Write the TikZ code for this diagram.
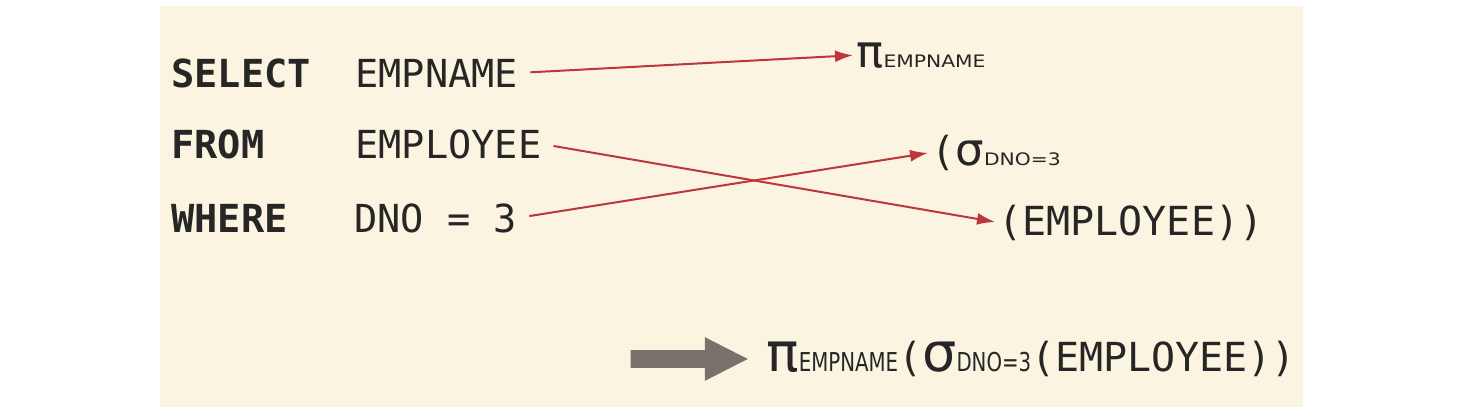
\documentclass[tikz,border=0pt]{standalone}
\usepackage{fontspec}
\setmonofont{DejaVu Sans Mono}
\newfontfamily\greekfont{DejaVu Sans}
\newfontfamily\subwide[FakeStretch=1.18]{DejaVu Sans}
\newfontfamily\subnarrow[FakeStretch=0.76]{DejaVu Sans}
\definecolor{SqlDark}{HTML}{262626}
\definecolor{SqlRed}{HTML}{BE353B}
\definecolor{SqlBeige}{HTML}{FBF4E0}
\definecolor{SqlGray}{HTML}{7B716C}
\newcommand{\opsmall}[1]{{\greekfont\fontsize{22.5}{24}\selectfont #1}}
\newcommand{\subsmall}[1]{{\subwide\fontsize{8.6}{10}\selectfont #1}}
\newcommand{\opbig}[1]{{\greekfont\fontsize{27}{29}\selectfont #1}}
\newcommand{\subbig}[1]{{\subnarrow\fontsize{13}{15}\selectfont #1}}
\usetikzlibrary{arrows.meta,positioning,shapes.arrows}
\tikzset{
  code/.style={anchor=base west, inner sep=0pt, text=SqlDark, font=\ttfamily\fontsize{19.3}{22}\selectfont},
  kw/.style={code, font=\ttfamily\bfseries\fontsize{19.3}{22}\selectfont},
  algebra/.style={code, font=\ttfamily\fontsize{20}{22}\selectfont},
  arrow/.style={-{Latex[length=9pt,width=6pt]}, line width=1pt, SqlRed, shorten <=6pt, shorten >=1.5pt},
  bigarrow/.style={single arrow, fill=SqlGray, inner xsep=0pt, inner ysep=4.25pt, minimum height=58.5pt,
    single arrow head extend=6.5pt, single arrow tip angle=54}
}

\begin{document}
\begin{tikzpicture}[x=0.5pt, y=-0.5pt]
    \useasboundingbox (0,0) rectangle (1462,407);
    \fill[SqlBeige] (160,6) rectangle (1303,407);

    % query
    \node[kw] (select) at (171,87) {SELECT};
    \node[kw] (from) at (171,158) {FROM};
    \node[kw] (where) at (171,232) {WHERE};
    \node[code] (empname) at (355,87) {EMPNAME};
    \node[code] (employee) at (355,158) {EMPLOYEE};
    \node[code] (dno) at (354,232) {DNO = 3};

    % algebra pieces
    \node[algebra] (proj) at (856,67) {\opsmall{π}\subsmall{EMPNAME}};
    \node[algebra] (sel) at (931,165) {(\opsmall{σ}\subsmall{DNO=3}};
    \node[algebra] (rel) at (998,235) {(EMPLOYEE))};

    \draw[arrow] (empname.east) -- (proj.west);
    \draw[arrow] (employee.east) -- (rel.west);
    \draw[arrow] (dno.east) -- (sel.west);

    % result
    \node[bigarrow] (turn) at (680.5,359) {};
    \node[algebra] (result) at (766,371) {\opbig{π}\subbig{EMPNAME}(\opbig{σ}\subbig{DNO=3}(EMPLOYEE))};
  \end{tikzpicture}
\end{document}
